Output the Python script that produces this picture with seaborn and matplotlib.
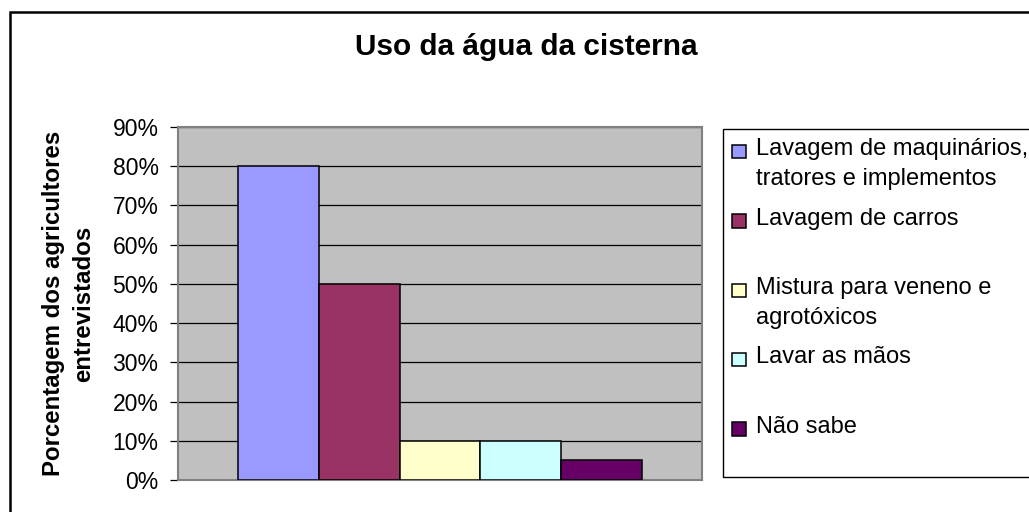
import matplotlib
matplotlib.use("Agg")
import matplotlib.pyplot as plt
import matplotlib.patches as mpatches
from matplotlib.legend_handler import HandlerPatch
import seaborn as sns
import pandas as pd

# ---- data ----
title = "Uso da água da cisterna"
y_label = "Porcentagem dos agricultores\nentrevistados"
uses = [
    "Lavagem de maquinários, tratores e implementos",
    "Lavagem de carros",
    "Mistura para veneno e agrotóxicos",
    "Lavar as mãos",
    "Não sabe",
]
legend_labels = [
    "Lavagem de maquinários,\ntratores e implementos",
    "Lavagem de carros\n",
    "Mistura para veneno e\nagrotóxicos",
    "Lavar as mãos\n",
    "Não sabe\n",
]
values = [0.80, 0.50, 0.10, 0.10, 0.05]
colors = ["#9999FF", "#993366", "#FFFFCC", "#CCFFFF", "#660066"]
y_ticks = [0.0, 0.1, 0.2, 0.3, 0.4, 0.5, 0.6, 0.7, 0.8, 0.9]
y_tick_labels = ["0%", "10%", "20%", "30%", "40%", "50%", "60%", "70%", "80%", "90%"]

df = pd.DataFrame({"grupo": [""] * len(uses), "uso": uses, "valor": values})

sns.set_theme(style="white")
plt.rcParams["font.family"] = ["Liberation Sans", "DejaVu Sans"]

W, H = 1029, 512
fig = plt.figure(figsize=(W / 100, H / 100), dpi=100)
fig.patch.set_facecolor("white")

ax = fig.add_axes([178 / W, 1 - 480 / H, 524 / W, 353 / H])
ax.set_facecolor("#C0C0C0")

sns.barplot(data=df, x="grupo", y="valor", hue="uso", hue_order=uses,
            palette=colors, width=0.771, gap=0, edgecolor="black",
            linewidth=1.1, saturation=1, ax=ax, legend=False, zorder=3)

ax.set_xlim(-0.5, 0.5)
ax.set_ylim(0, 0.9)
ax.set_yticks(y_ticks)
ax.set_yticklabels(y_tick_labels, fontsize=16.5, color="black")
ax.set_xticks([])
ax.set_xlabel("")
ax.tick_params(axis="y", direction="out", length=6, width=0.9, color="black",
               pad=8, left=True)
ax.yaxis.grid(True, color="black", linewidth=0.9)
ax.set_axisbelow(True)
for s in ax.spines.values():
    s.set_visible(True)
    s.set_color("#808080")
    s.set_linewidth(1.5)

ax.set_ylabel(y_label, fontsize=17.3, fontweight="bold", color="black",
              linespacing=1.38)
ax.yaxis.set_label_coords(-0.158, 0.5)

fig.text(526 / W, 1 - 55 / H, title, ha="center", va="baseline",
         fontsize=21.4, fontweight="bold", color="black")


def square_patch(legend, orig_handle, xdescent, ydescent, width, height, fontsize):
    return mpatches.Rectangle((-xdescent, -ydescent - 0.11 * fontsize),
                              width, 0.56 * fontsize)


handles = [c.patches[0] for c in ax.containers]
leg = fig.legend(handles, legend_labels, loc="upper left",
                 bbox_to_anchor=(723 / W, 1 - 129 / H),
                 bbox_transform=fig.transFigure, borderaxespad=0,
                 fontsize=17, frameon=True, fancybox=False, framealpha=1,
                 edgecolor="black", handlelength=0.59, handleheight=0.75,
                 handletextpad=0.40, borderpad=0.4, labelspacing=0.74,
                 handler_map={mpatches.Rectangle: HandlerPatch(patch_func=square_patch)})
leg.get_frame().set_linewidth(1.0)
for t in leg.get_texts():
    t.set_linespacing(1.46)
    t.set_color("black")
for col in leg._legend_handle_box.get_children():
    for item in col.get_children():
        item.align = "top"

frame = mpatches.Rectangle((10 / W, -0.1), 1.2, 1 - 12 / H + 0.1,
                           transform=fig.transFigure, fill=False,
                           edgecolor="black", linewidth=1.8)
fig.patches.append(frame)

fig.savefig("out.png", dpi=100, facecolor="white")
